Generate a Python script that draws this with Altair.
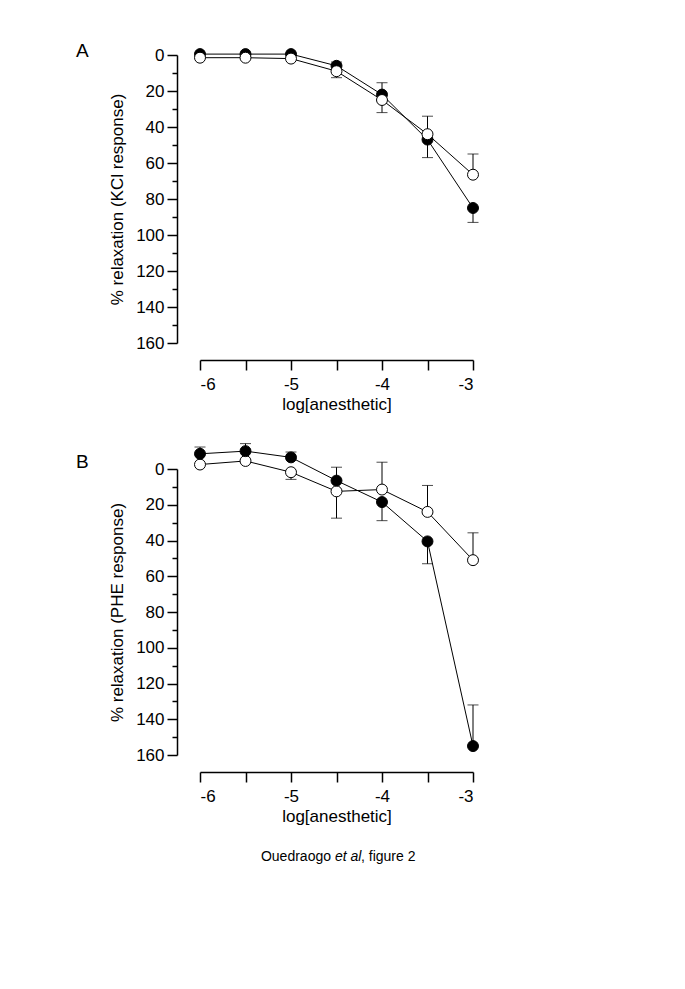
import altair as alt
import pandas as pd

FONT = "Liberation Sans"

log_conc = [-6, -5.5, -5, -4.5, -4, -3.5, -3]
x_ticks = [-6, -5.5, -5, -4.5, -4, -3.5, -3]
y_major = [0, 20, 40, 60, 80, 100, 120, 140, 160]
y_minor = [10, 30, 50, 70, 90, 110, 130, 150]

# Panel A: % relaxation (KCl response)
a_filled = [-0.5, -0.5, -0.5, 6, 22, 47, 85]
a_filled_sem = [0, 0, 0, 2.1, 6.6, 10, 8]
a_filled_dir = [-1, -1, -1, -1, -1, 1, 1]
a_open = [1.5, 1.5, 2, 9, 25, 44, 66.5]
a_open_sem = [0, 0, 0, 3.6, 7, 10, 11.5]
a_open_dir = [1, 1, 1, 1, 1, -1, -1]

# Panel B: % relaxation (PHE response)
b_filled = [-8.5, -10, -6.5, 6.5, 18.5, 40.5, 155]
b_filled_sem = [3.8, 4.2, 3, 7.5, 10.4, 12.5, 23]
b_filled_dir = [-1, -1, -1, -1, 1, 1, -1]
b_open = [-2.5, -4.5, 1.8, 12.5, 11.5, 24, 51]
b_open_sem = [0, 0, 4, 15, 15.3, 14.8, 15.3]
b_open_dir = [1, 1, 1, 1, -1, -1, -1]


def series_rows(name, vals, sems, dirs):
    rows = []
    for x, v, s, d in zip(log_conc, vals, sems, dirs):
        rows.append({"series": name, "x": x, "y": v, "sem": s, "end": v + d * s})
    return rows


def panel(df, ytitle, label, title_offset, h):
    xs = alt.Scale(domain=[-6, -3], nice=False, zero=False)
    ys = alt.Scale(domain=[0, 160], reverse=True, nice=False, zero=False)
    xaxis = alt.Axis(values=x_ticks,
                     labelExpr="datum.value % 1 == 0 ? '' + datum.value : ''",
                     tickSize=10, offset=17, title="log[anesthetic]", grid=False,
                     labelPadding=6, titlePadding=4)
    yaxis = alt.Axis(values=y_major, tickSize=10, offset=23, title=ytitle,
                     grid=False, labelPadding=3, titlePadding=9, orient="left")
    yminor = alt.Axis(values=y_minor, tickSize=5, offset=23, labels=False,
                      domain=False, title=None, grid=False, orient="left")
    X = alt.X("x:Q", scale=xs, axis=xaxis)

    lines = alt.Chart(df).mark_line(color="black", strokeWidth=1).encode(
        x=X, y=alt.Y("y:Q", scale=ys, axis=yaxis), detail="series:N")
    err = alt.Chart(df).transform_filter("datum.sem > 0").mark_rule(
        color="black", strokeWidth=1).encode(
        x=X, y=alt.Y("y:Q", scale=ys, axis=None), y2="end:Q")
    caps = alt.Chart(df).transform_filter("datum.sem > 0").mark_tick(
        color="black", size=11, thickness=1, orient="horizontal").encode(
        x=X, y=alt.Y("end:Q", scale=ys, axis=yminor))
    pts = alt.Chart(df).mark_point(shape="circle", filled=True, size=120,
                                   stroke="black", strokeWidth=1, opacity=1).encode(
        x=X, y=alt.Y("y:Q", scale=ys, axis=None),
        fill=alt.Fill("series:N", scale=alt.Scale(domain=["filled", "open"],
                                                   range=["black", "white"]),
                      legend=None))
    return alt.layer(lines, err, caps, pts).resolve_axis(y="independent").properties(
        width=273, height=h,
        title=alt.TitleParams(label, anchor="start", frame="group", fontSize=19,
                              font=FONT, fontWeight="normal", dx=-124,
                              offset=title_offset))


df_a = pd.DataFrame(series_rows("filled", a_filled, a_filled_sem, a_filled_dir)
                    + series_rows("open", a_open, a_open_sem, a_open_dir))
df_b = pd.DataFrame(series_rows("open", b_open, b_open_sem, b_open_dir)
                    + series_rows("filled", b_filled, b_filled_sem, b_filled_dir))

pA = panel(df_a, "% relaxation (KCl response)", "A", -15, 288)
pB = panel(df_b, "% relaxation (PHE response)", "B", -29, 286)

cap_parts = ["Ouedraogo", "et al", ", figure 2"]
c1 = alt.Chart(pd.DataFrame({"t": [cap_parts[0]]})).mark_text(
    align="right", baseline="alphabetic", fontSize=14, font=FONT, color="black").encode(
    text="t:N", x=alt.value(131), y=alt.value(5))
c2 = alt.Chart(pd.DataFrame({"t": [cap_parts[1]]})).mark_text(
    align="left", baseline="alphabetic", fontSize=14, font=FONT, fontStyle="italic",
    color="black").encode(text="t:N", x=alt.value(135), y=alt.value(5))
c3 = alt.Chart(pd.DataFrame({"t": [cap_parts[2]]})).mark_text(
    align="left", baseline="alphabetic", fontSize=14, font=FONT, color="black").encode(
    text="t:N", x=alt.value(161), y=alt.value(5))
caption = alt.layer(c1, c2, c3).properties(width=273, height=20)

panels = alt.vconcat(pA, pB, spacing=31)
chart = alt.vconcat(panels, caption, spacing=26).properties(
    padding={"left": 68, "top": 34, "right": 5, "bottom": 5}
).configure_view(stroke=None).configure_axis(
    labelFont=FONT, titleFont=FONT, labelFontSize=17, titleFontSize=17,
    titleFontWeight="normal", labelColor="black", titleColor="black",
    domainColor="black", tickColor="black", domainWidth=1.5, tickWidth=1.5
)

chart.save("out.html", embed_options={"renderer": "svg", "actions": False})
